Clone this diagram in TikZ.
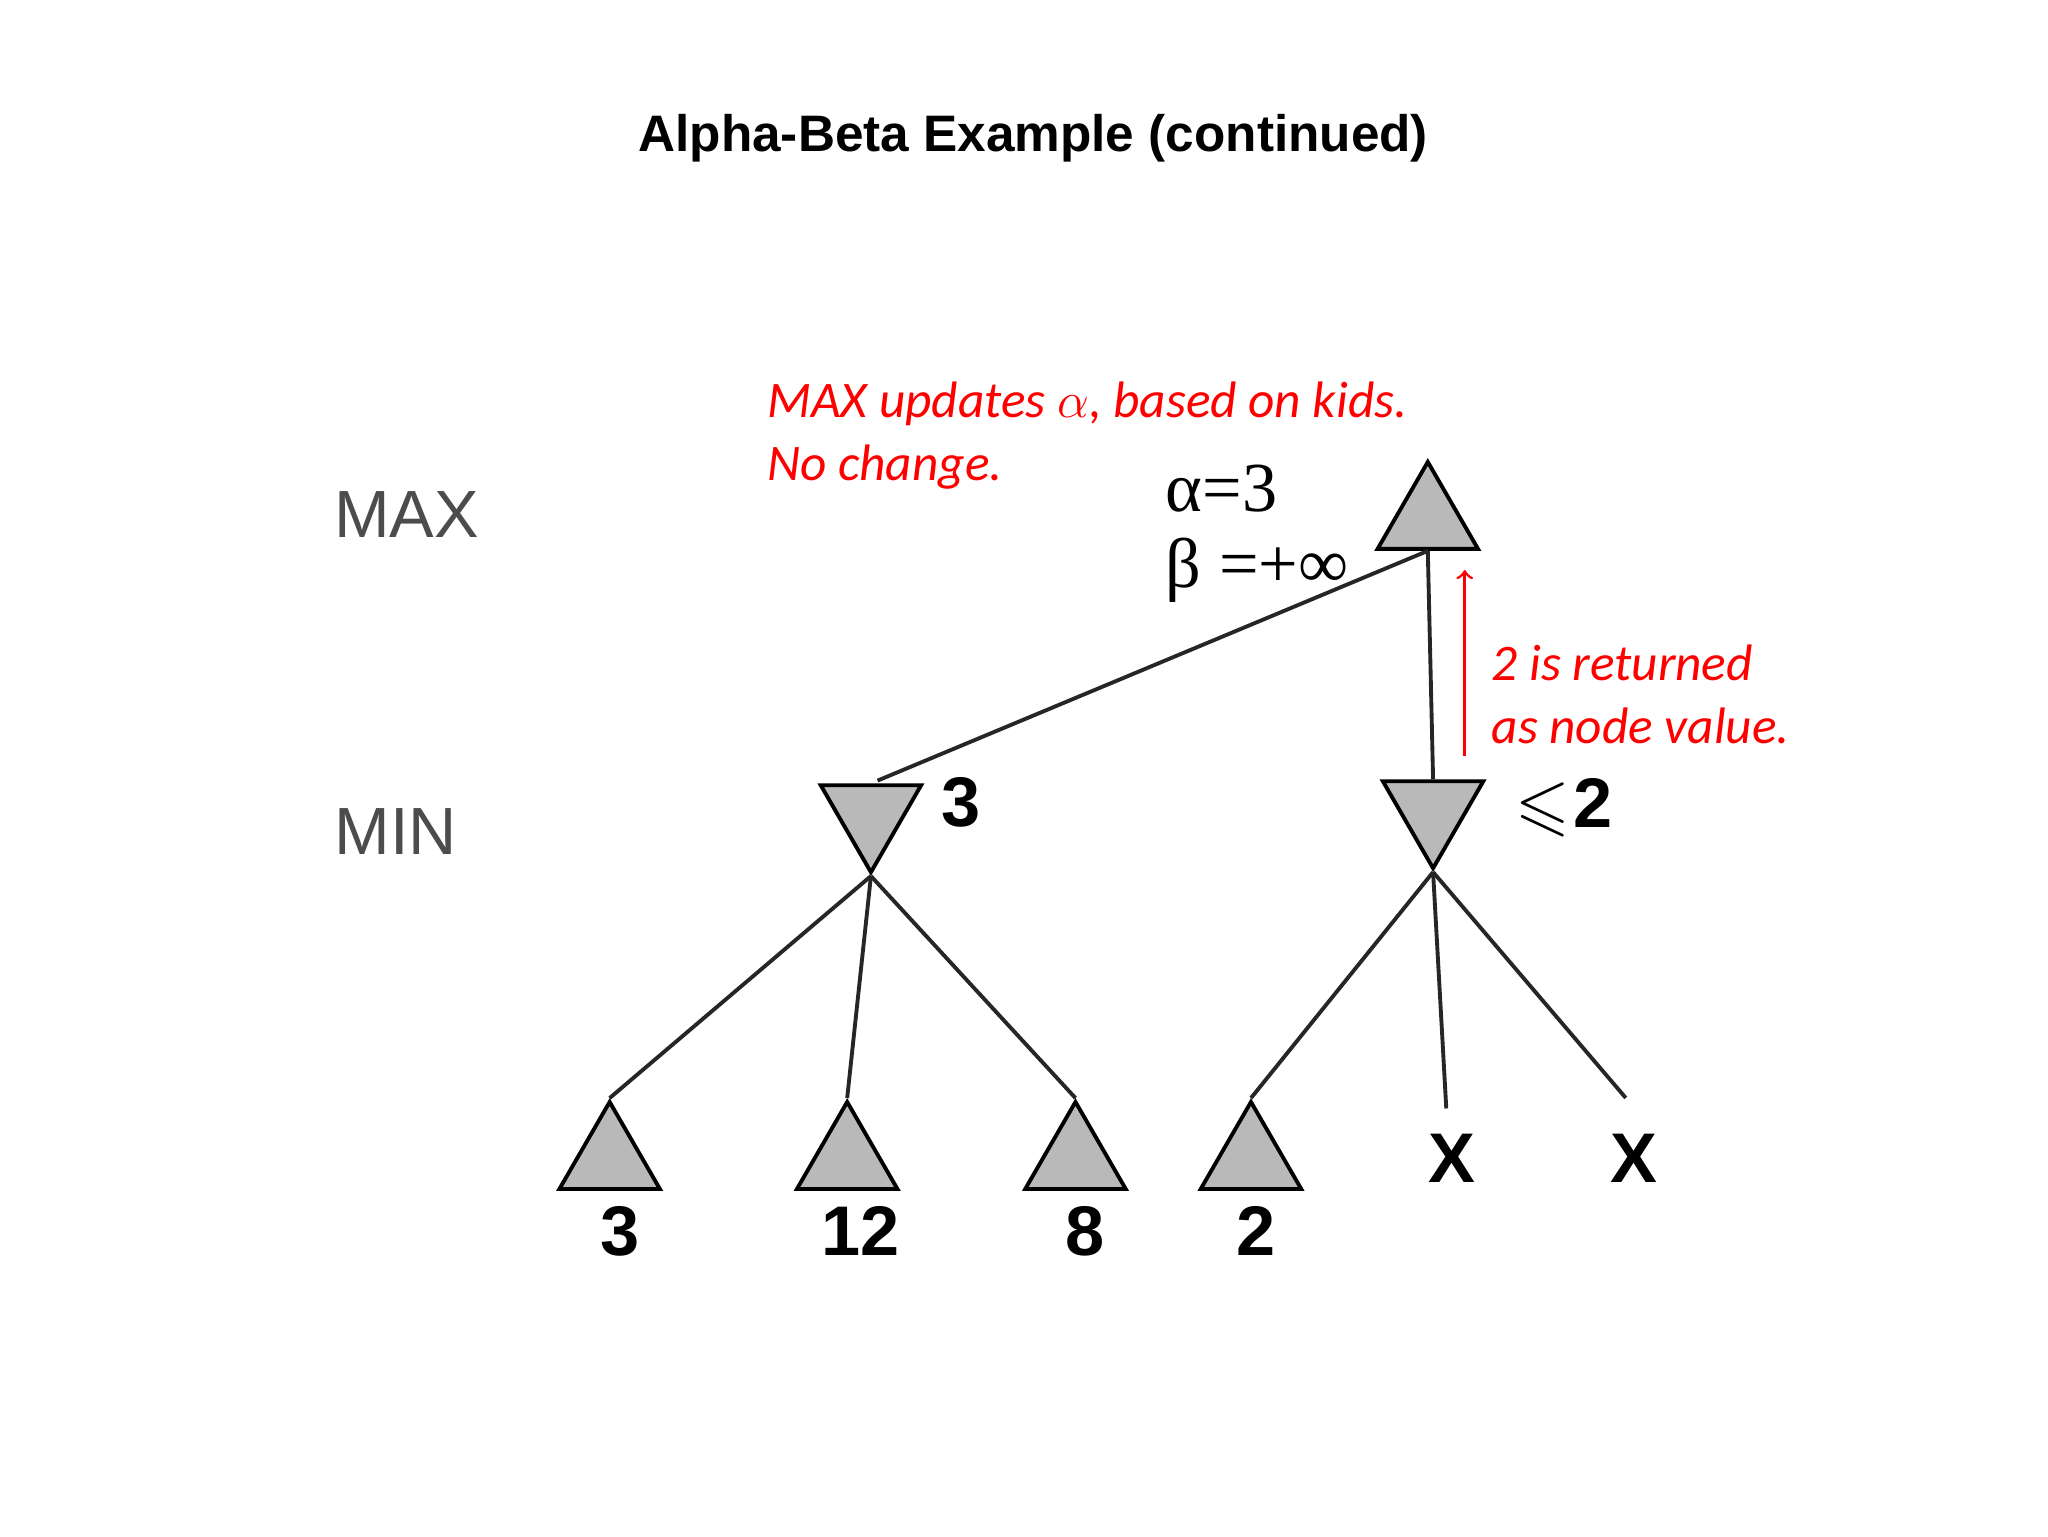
\documentclass[tikz,border=0pt]{standalone}
\usepackage{amssymb}
\usepackage{fontspec}
\setmainfont{Liberation Serif}
\newfontfamily\arialf{Liberation Sans}
\newfontfamily\calf{Carlito}
\usetikzlibrary{shapes.geometric,calc}
\begin{document}
\begin{tikzpicture}[x=0.013196cm,y=-0.013196cm,
  tri/.style={regular polygon,regular polygon sides=3,draw=black,fill=gray!55,line width=1.1pt,inner sep=0pt,minimum size=1.16cm},
  dtri/.style={tri,shape border rotate=180},
  edge/.style={line width=1.1pt,draw=black!85},
  lvl/.style={font=\arialf\fontsize{19}{23}\selectfont,text=black!70},
  val/.style={font=\arialf\bfseries\fontsize{20}{24}\selectfont},
  redtxt/.style={font=\calf\itshape\fontsize{14.6}{18}\selectfont,text=red,align=left,anchor=west}]
\useasboundingbox (0,0) rectangle (1552,1164);
\node[font=\arialf\bfseries\fontsize{14.6}{17}\selectfont] (title) at (783,105) {Alpha-Beta Example (continued)};
\node[lvl] (lmax) at (308,390) {MAX};
\node[lvl] (lmin) at (300,630) {MIN};
\node[tri] (root) at (1082,394) {};
\node[dtri] (mina) at (660,617) {};
\node[dtri] (minb) at (1086,614) {};
\node[tri] (l1) at (462,879) {};
\node[tri] (l2) at (642,879) {};
\node[tri] (l3) at (815,879) {};
\node[tri] (l4) at (948,879) {};
\coordinate (x1) at (1096,840);
\coordinate (x2) at (1232,832);
\draw[edge] (root.south) -- ($(mina.north)+(5,-2)$);
\draw[edge] (root.south) -- (minb.north);
\foreach \l in {l1,l2,l3}{\draw[edge] (mina.south) -- (\l.north);}
\draw[edge] (minb.south) -- (l4.north);
\draw[edge] (minb.south) -- (x1);
\draw[edge] (minb.south) -- (x2);
\node[val] (v1) at (470,933) {3};
\node[val] (v2) at (652,933) {12};
\node[val] (v3) at (822,933) {8};
\node[val] (v4) at (952,933) {2};
\node[val] (xa) at (1100,878) {X};
\node[val] (xb) at (1238,878) {X};
\node[val] (va) at (728,608) {3};
\node[val,inner sep=0pt] (vb) at (1185,612) {$\leqslant$\kern1pt2};
\node[font=\fontsize{20}{24}\selectfont,anchor=west] (ab) at (874,370) {α=3};
\node[font=\fontsize{20}{24}\selectfont,anchor=west] (bb) at (874,432) {β =+∞};
\node[redtxt] (t1) at (572,330) {MAX updates $\alpha$, based on kids.\\No change.};
\node[redtxt] (t2) at (1121,526) {2 is returned\\as node value.};
\coordinate (ra) at (1110,573);
\coordinate (rb) at (1110,432);
\draw[red,line width=0.8pt,->] (ra) -- (rb);
\end{tikzpicture}
\end{document}
